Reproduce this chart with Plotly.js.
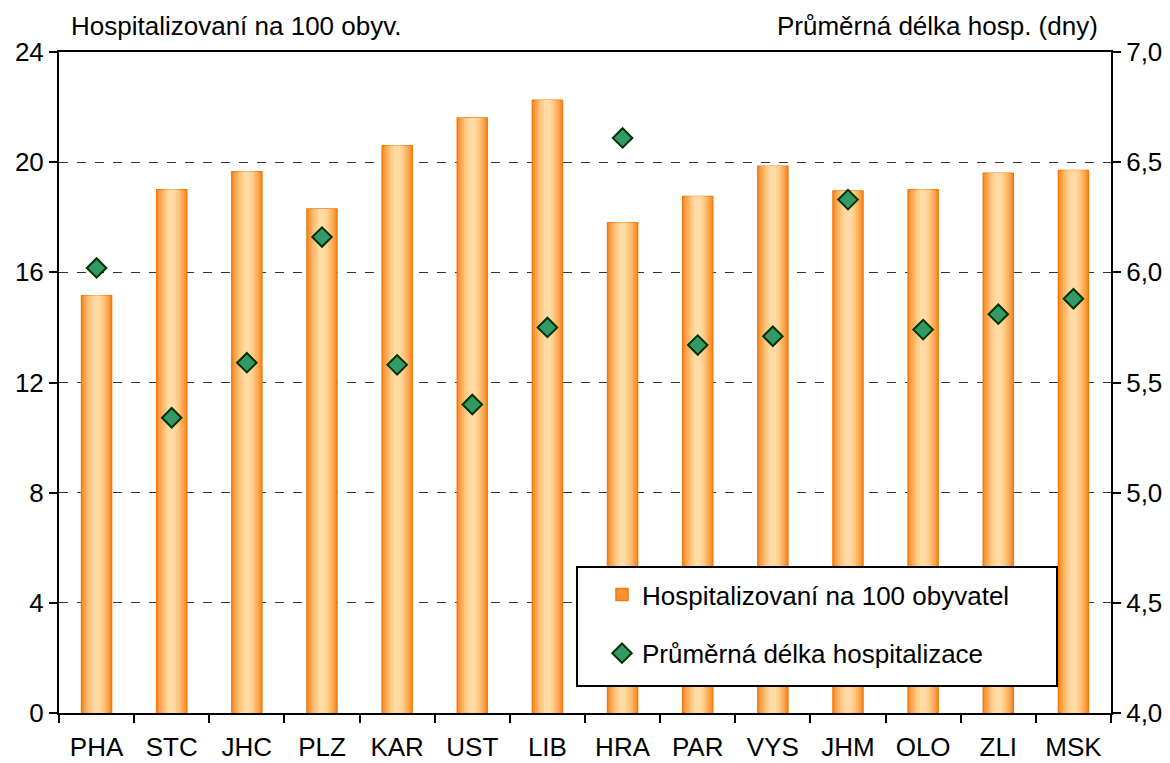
<!DOCTYPE html>
<html><head><meta charset="utf-8">
<script src="https://cdn.plot.ly/plotly-3.0.1.min.js"></script>
<style>body{margin:0;background:#fff}#chart{width:1170px;height:763px}</style>
</head><body><div id="chart"></div>
<script>
const categories = ["PHA","STC","JHC","PLZ","KAR","UST","LIB","HRA","PAR","VYS","JHM","OLO","ZLI","MSK"];
const hospitalizovani = [15.15, 19.0, 19.65, 18.3, 20.6, 21.6, 22.25, 17.8, 18.75, 19.85, 18.95, 19.0, 19.6, 19.7];
const delka = [6.02, 5.34, 5.59, 6.16, 5.58, 5.40, 5.75, 6.61, 5.67, 5.71, 6.33, 5.74, 5.81, 5.88];
const barName = "Hospitalizovaní na 100 obyvatel";
const lineName = "Průměrná délka hospitalizace";

// layered bars to imitate the horizontal gradient fill
const layers = [
  {w:0.40, c:"#F8922F"},
  {w:0.34, c:"#FAA249"},
  {w:0.28, c:"#FCB462"},
  {w:0.22, c:"#FDC47C"},
  {w:0.16, c:"#FED192"},
  {w:0.09, c:"#FFDAA2"}
];
const traces = layers.map((l,i)=>({
  type:"bar", x:categories, y:hospitalizovani, name:barName,
  width: categories.map(()=>l.w),
  marker:{color:l.c, line:{color: i===0 ? "#F27A10" : l.c, width: i===0 ? 1.5 : 0}},
  showlegend: i===0, hoverinfo: i===0 ? "x+y" : "skip", legendgroup:"a"
}));
traces.push({
  type:"scatter", mode:"markers", x:categories, y:delka, yaxis:"y2", name:lineName,
  marker:{symbol:"diamond", size:15, color:"#339966", line:{color:"#003300", width:2}},
  legendgroup:"b"
});

const F = "Liberation Sans, Arial, sans-serif";
const FS = 26;
const px = v => (v-59)/1052;
const py = v => (713-v)/661;
const layout = {
  width:1170, height:763,
  margin:{l:59, r:59, t:52, b:50},
  paper_bgcolor:"#fff", plot_bgcolor:"#fff",
  font:{family:F, size:FS, color:"#000"},
  separators:", ",
  barmode:"overlay",
  showlegend:true,
  legend:{x:px(602), y:py(571), xanchor:"left", yanchor:"top",
    borderwidth:0, bgcolor:"rgba(0,0,0,0)",
    font:{family:F, size:FS}, traceorder:"grouped", tracegroupgap:22,
    itemwidth:30},
  xaxis:{type:"category", showline:true, linecolor:"#000", linewidth:2,
    mirror:true, ticks:"outside", ticklen:8, tickwidth:2, tickcolor:"#000",
    tickson:"boundaries", showgrid:false, range:[-0.5,13.5],
    ticklabelstandoff:10, tickfont:{size:FS}},
  yaxis:{range:[0,24], tickvals:[0,4,8,12,16,20,24], showline:true, linecolor:"#000",
    linewidth:2, ticks:"outside", ticklen:8, tickwidth:2, tickcolor:"#000",
    showgrid:true, gridcolor:"#333", gridwidth:1, griddash:"dash", zeroline:false,
    tickfont:{size:FS}},
  yaxis2:{overlaying:"y", side:"right", range:[4,7], tickvals:[4,4.5,5,5.5,6,6.5,7],
    tickformat:".1f", showline:true, linecolor:"#000", linewidth:2,
    ticks:"outside", ticklen:8, tickwidth:2, tickcolor:"#000", showgrid:false, zeroline:false,
    tickfont:{size:FS}},
  shapes:[
    {type:"rect", xref:"paper", yref:"paper", x0:px(577), x1:px(1057), y0:py(686), y1:py(567),
     fillcolor:"#fff", line:{color:"#000", width:2}, layer:"above"}
  ],
  annotations:[
    {text:"Hospitalizovaní na 100 obyv.", xref:"paper", yref:"paper", x:px(69), y:1, yshift:26,
     xanchor:"left", yanchor:"middle", showarrow:false, font:{size:FS}},
    {text:"Průměrná délka hosp. (dny)", xref:"paper", yref:"paper", x:px(1100), y:1, yshift:26,
     xanchor:"right", yanchor:"middle", showarrow:false, font:{size:FS}}
  ]
};
Plotly.newPlot("chart", traces, layout, {displayModeBar:false, staticPlot:true});
</script></body></html>
